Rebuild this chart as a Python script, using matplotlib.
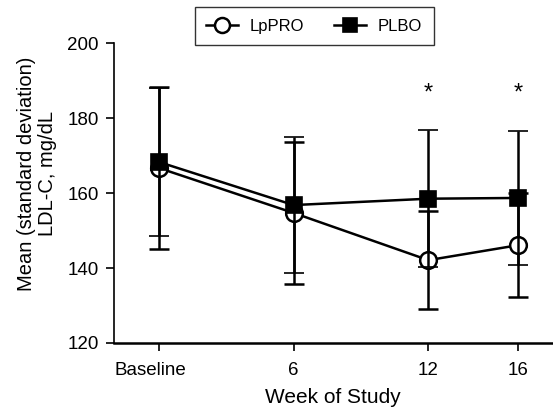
import matplotlib
matplotlib.use("Agg")
import matplotlib.pyplot as plt
import matplotlib.transforms as mtransforms

plt.rcParams['font.family'] = ['Liberation Sans', 'DejaVu Sans']

weeks = [0, 6, 12, 16]
week_labels = ["Baseline", "6", "12", "16"]

lppro_mean = [166.7, 154.7, 142.1, 146.1]
lppro_sd = [21.5, 18.9, 13.1, 13.8]
plbo_mean = [168.3, 156.8, 158.5, 158.7]
plbo_sd = [19.8, 18.2, 18.2, 17.9]

star_weeks = [12, 16]
star_y = 186.5

fig = plt.figure(figsize=(5.53, 4.15), dpi=100)
ax = fig.add_axes([0.206, 0.1735, 0.792, 0.7225])

ax.errorbar(weeks, lppro_mean, yerr=lppro_sd, fmt="-o", color="black",
            mfc="white", mec="black", ms=12, mew=1.8, lw=1.8,
            elinewidth=1.8, capsize=7, capthick=1.8, label="LpPRO", zorder=3)
ax.errorbar(weeks, plbo_mean, yerr=plbo_sd, fmt="-s", color="black",
            mfc="black", mec="black", ms=11, mew=1.2, lw=1.8,
            elinewidth=1.8, capsize=7, capthick=1.8, label="PLBO", zorder=4)

for w in star_weeks:
    ax.text(w, star_y, "*", ha="center", va="center", fontsize=17)

ax.set_xlim(-2.0, 17.5)
ax.set_ylim(120, 200)
ax.set_xticks(weeks)
ax.set_xticklabels(week_labels)
ax.set_yticks([120, 140, 160, 180, 200])
ax.tick_params(labelsize=13.5, width=1.2, length=6, direction="out")
ax.tick_params(axis="x", pad=8)
ax.tick_params(axis="y", pad=5)
ax.spines["top"].set_visible(False)
ax.spines["right"].set_visible(False)
ax.spines["left"].set_linewidth(1.2)
ax.spines["bottom"].set_linewidth(1.8)

# baseline label sits a bit left of its tick in the original
lbl = ax.get_xticklabels()[0]
lbl.set_transform(lbl.get_transform() +
                  mtransforms.ScaledTranslation(-8 / 100, 0, fig.dpi_scale_trans))

ax.set_xlabel("Week of Study", fontsize=15, labelpad=6)
ax.set_ylabel("Mean (standard deviation)\nLDL-C, mg/dL", fontsize=14.5,
              linespacing=1.15)
ax.yaxis.set_label_coords(-0.13, 0.565)

handles, labels = ax.get_legend_handles_labels()
handles = [h[0] for h in handles]
leg = fig.legend(handles, labels, loc="upper center", bbox_to_anchor=(0.568, 0.983),
                 ncol=2, frameon=True, fancybox=False, edgecolor="black",
                 fontsize=12, handlelength=1.9, handletextpad=0.7,
                 columnspacing=1.8, borderpad=0.7, borderaxespad=0,
                 markerscale=0.9)
leg.get_frame().set_linewidth(1.0)

fig.savefig("out.png", dpi=100)
